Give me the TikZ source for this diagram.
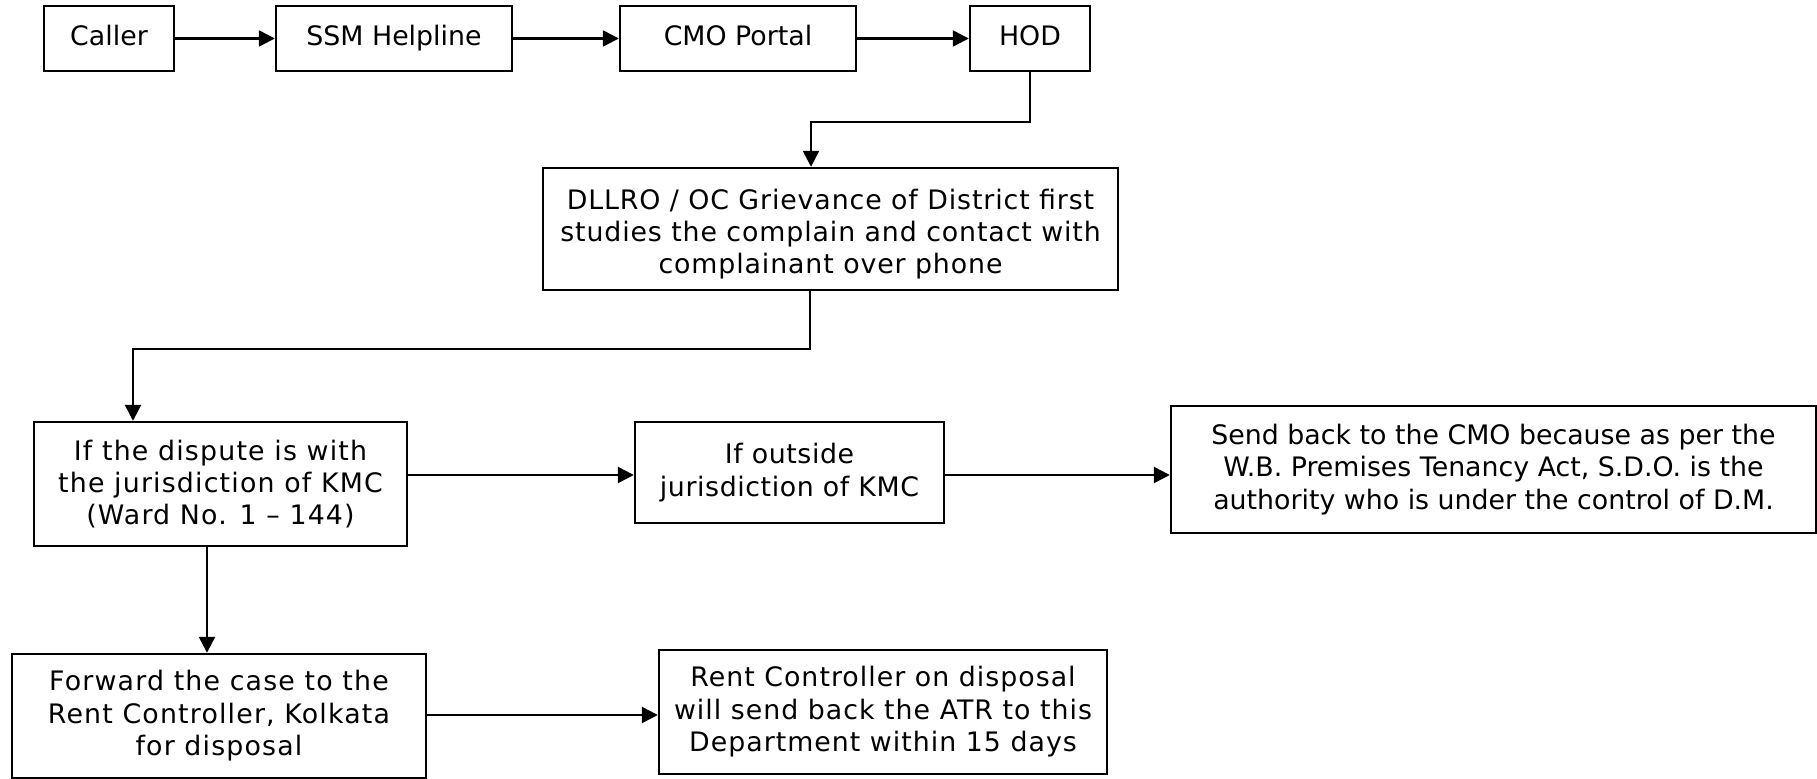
\documentclass[tikz,border=0pt]{standalone}
\usepackage{fontspec}
\setmainfont{DejaVu Sans}
\usetikzlibrary{arrows.meta}
\begin{document}
\begin{tikzpicture}[x=0.5pt,y=-0.5pt,
  fbox/.style={draw,line width=1.2pt,inner sep=0pt,align=center,font=\fontsize{13.4}{16.2}\selectfont},
  onel/.style={fbox,text height=10.4pt,text depth=3pt},
  conn/.style={line width=1.2pt,-{Triangle[length=8pt,width=8pt]}}]
\useasboundingbox (0,0) rectangle (1817,779);
\node[onel,minimum width=65pt,minimum height=32.5pt] (caller) at (109,38.5) {Caller};
\node[onel,minimum width=118pt,minimum height=32.5pt] (ssm) at (394,38.5) {SSM Helpline};
\node[onel,minimum width=118pt,minimum height=32.5pt] (cmo) at (738,38.5) {CMO Portal};
\node[onel,minimum width=60pt,minimum height=32.5pt] (hod) at (1030,38.5) {HOD};
\node[fbox,minimum width=287.5pt,minimum height=61pt,font=\fontsize{13.4}{15.9}\selectfont\addfontfeature{LetterSpace=3.3}] (dllro) at (830.5,229) {\rule{0pt}{15pt}DLLRO / OC Grievance of District first\\studies the complain and contact with\\complainant over phone};
\node[fbox,minimum width=186.5pt,minimum height=62pt,font=\fontsize{13.4}{16.2}\selectfont\addfontfeature{LetterSpace=4.4}] (disp) at (220.5,484) {If the dispute is with\\the jurisdiction of KMC\\(Ward No. 1 – 144)};
\node[fbox,minimum width=154.5pt,minimum height=50.5pt,font=\fontsize{13.4}{16.2}\selectfont\addfontfeature{LetterSpace=2.2}] (out) at (789.5,472.5) {If outside\\jurisdiction of KMC};
\node[fbox,minimum width=322.5pt,minimum height=63.5pt,font=\fontsize{13.4}{16.4}\selectfont] (send) at (1493.5,469.5) {Send back to the CMO because as per the\\W.B. Premises Tenancy Act, S.D.O. is the\\authority who is under the control of D.M.};
\node[fbox,minimum width=207pt,minimum height=62pt,font=\fontsize{13.4}{16.2}\selectfont\addfontfeature{LetterSpace=4.4}] (fwd) at (219,716) {Forward the case to the\\Rent Controller, Kolkata\\for disposal};
\node[fbox,minimum width=224pt,minimum height=62pt,font=\fontsize{13.4}{16.2}\selectfont\addfontfeature{LetterSpace=3.8}] (rent) at (883,712) {Rent Controller on disposal\\will send back the ATR to this\\Department within 15 days};
\coordinate (c1) at (1030,122);
\coordinate (c2) at (811,122);
\coordinate (c3) at (810,349);
\coordinate (c4) at (133,349);
\draw[conn] (caller) -- (ssm);
\draw[conn] (ssm) -- (cmo);
\draw[conn] (cmo) -- (hod);
\draw[conn] (hod.south) -- (c1) -- (c2) -- (c2 |- dllro.north);
\draw[conn] (c3 |- dllro.south) -- (c3) -- (c4) -- (c4 |- disp.north);
\draw[conn] (disp.east |- 0,475) -- (out.west |- 0,475);
\draw[conn] (out.east |- 0,475) -- (send.west |- 0,475);
\draw[conn] (disp.south -| 207,0) -- (fwd.north -| 207,0);
\draw[conn] (fwd.east |- 0,715) -- (rent.west |- 0,715);
\end{tikzpicture}
\end{document}
